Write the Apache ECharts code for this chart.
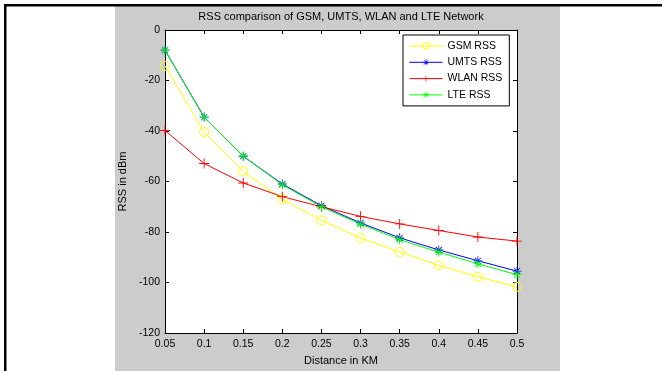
<!DOCTYPE html>
<html>
<head>
<meta charset="utf-8">
<script src="https://cdn.jsdelivr.net/npm/echarts@6/dist/echarts.min.js"></script>
<style>
html,body{margin:0;padding:0;background:#fff;}
#c{width:662px;height:371px;}
</style>
</head>
<body>
<div id="c"></div>
<script>
const distances = [0.05, 0.1, 0.15, 0.2, 0.25, 0.3, 0.35, 0.4, 0.45, 0.5];
const gsmRss  = [-14.2, -40.4, -56.0, -67.1, -75.4, -82.4, -87.9, -93.2, -97.7, -101.7];
const umtsRss = [-8.0, -34.5, -50.0, -61.0, -69.6, -76.4, -82.3, -87.1, -91.4, -95.5];
const wlanRss = [-39.8, -52.9, -60.6, -66.0, -70.0, -73.8, -76.8, -79.4, -82.0, -83.6];
const lteRss  = [-8.0, -34.5, -49.9, -61.3, -70.0, -76.9, -83.0, -88.0, -92.6, -96.9];
const seriesNames = ['GSM RSS', 'UMTS RSS', 'WLAN RSS', 'LTE RSS'];
const yTicks = {min: -120, max: 0, step: 20};
const xTicks = {min: 0.05, max: 0.5, step: 0.05};

const plusPath = 'path://M4.55,0h0.9v10h-0.9z M0,4.55h10v0.9h-10z';
const starPath = 'path://M4.55,0h0.9v10h-0.9z M0,4.55h10v0.9h-10z M1.3,1.9L1.9,1.3L8.7,8.1L8.1,8.7Z M8.7,1.9L8.1,1.3L1.3,8.1L1.9,8.7Z';

function pairs(ys){ return distances.map((x,i)=>[x, ys[i]]); }

const chart = echarts.init(document.getElementById('c'), null, {renderer:'canvas'});
const font = 'Liberation Sans, Arial, sans-serif';
const fmtX = v => String(+v.toFixed(2));
const colors = ['#ffff00', '#0000ff', '#ff0000', '#00ff00'];
const symbols = ['circle', starPath, plusPath, starPath];

function styleFor(i){
  return i === 0 ? {color:'rgba(255,255,255,0)', borderColor:colors[i], borderWidth:1}
                 : {color:colors[i], borderWidth:0};
}

function mkSeries(i, data, size){
  return {
    name: seriesNames[i], type:'line', data: pairs(data), clip:false,
    symbol: symbols[i], symbolSize: size, showSymbol:true,
    lineStyle:{color:colors[i], width:1},
    itemStyle: styleFor(i),
    emphasis:{disabled:true},
    animation:false
  };
}

chart.setOption({
  animation:false,
  backgroundColor:'#ffffff',
  textStyle:{fontFamily:font},
  graphic:[
    {type:'rect', shape:{x:115, y:6, width:445, height:365}, style:{fill:'#cccccc'}, z:-10, silent:true},
    {type:'rect', shape:{x:4, y:4, width:658, height:2.5}, style:{fill:'#000'}, z:-5, silent:true},
    {type:'rect', shape:{x:4, y:4, width:2.5, height:367}, style:{fill:'#000'}, z:-5, silent:true},
    {type:'text', style:{text:'RSS comparison of GSM, UMTS, WLAN and LTE Network', x:341, y:17, align:'center', verticalAlign:'middle', fontSize:11, fontFamily:font, fill:'#000'}, z:10}
  ],
  grid:{left:165, top:30, width:352, height:305, show:true, backgroundColor:'#ffffff', borderWidth:0},
  legend:{
    orient:'vertical', left:403, top:35,
    data: seriesNames.map((n,i)=>({name:n, itemStyle:styleFor(i), lineStyle:{color:colors[i], width:1}})),
    itemWidth:33, itemHeight:8, itemGap:2.3,
    padding:[4,7,4,6],
    borderColor:'#000', borderWidth:1, backgroundColor:'#fff',
    lineStyle:{width:1},
    textStyle:{fontSize:10.5, fontFamily:font, color:'#000', lineHeight:14},
    selectedMode:false
  },
  xAxis:[
    {type:'value', min:xTicks.min, max:xTicks.max, interval:xTicks.step, position:'bottom',
     name:'Distance in KM', nameLocation:'middle', nameGap:22,
     nameTextStyle:{fontSize:11, color:'#000', fontFamily:font},
     axisLine:{show:true, onZero:false, lineStyle:{color:'#000', width:1}},
     axisTick:{show:true, inside:true, length:4, lineStyle:{color:'#000'}},
     axisLabel:{show:true, formatter:fmtX, fontSize:10.5, color:'#000', margin:6, fontFamily:font},
     splitLine:{show:false}},
    {type:'value', min:xTicks.min, max:xTicks.max, interval:xTicks.step, position:'top',
     axisLine:{show:true, onZero:false, lineStyle:{color:'#000', width:1}},
     axisTick:{show:true, inside:true, length:4, lineStyle:{color:'#000'}},
     axisLabel:{show:false}, splitLine:{show:false}}
  ],
  yAxis:[
    {type:'value', min:yTicks.min, max:yTicks.max, interval:yTicks.step, position:'left',
     name:'RSS in dBm', nameLocation:'middle', nameGap:33, nameRotate:90,
     nameTextStyle:{fontSize:11, color:'#000', fontFamily:font},
     axisLine:{show:true, onZero:false, lineStyle:{color:'#000', width:1}},
     axisTick:{show:true, inside:true, length:4, lineStyle:{color:'#000'}},
     axisLabel:{show:true, fontSize:10.5, color:'#000', margin:5, fontFamily:font},
     splitLine:{show:false}},
    {type:'value', min:yTicks.min, max:yTicks.max, interval:yTicks.step, position:'right',
     axisLine:{show:true, onZero:false, lineStyle:{color:'#000', width:1}},
     axisTick:{show:true, inside:true, length:4, lineStyle:{color:'#000'}},
     axisLabel:{show:false}, splitLine:{show:false}}
  ],
  series:[
    mkSeries(0, gsmRss, 9),
    mkSeries(1, umtsRss, 9),
    mkSeries(2, wlanRss, 10),
    mkSeries(3, lteRss, 9)
  ]
});
</script>
</body>
</html>
